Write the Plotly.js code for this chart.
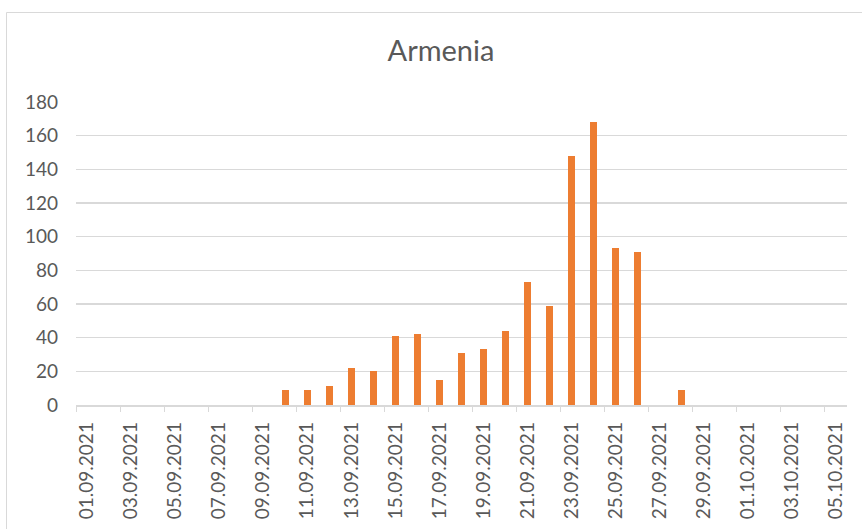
<!DOCTYPE html>
<html>
<head>
<meta charset="utf-8">
<script src="https://cdn.plot.ly/plotly-3.0.1.min.js"></script>
<style>
  html, body { margin: 0; padding: 0; background: #fff; }
  #chart { width: 862px; height: 529px; }
</style>
</head>
<body>
<div id="chart"></div>
<script>
// Daily values
const dates = [
  '2021-09-10', '2021-09-11', '2021-09-12', '2021-09-13', '2021-09-14',
  '2021-09-15', '2021-09-16', '2021-09-17', '2021-09-18', '2021-09-19',
  '2021-09-20', '2021-09-21', '2021-09-22', '2021-09-23', '2021-09-24',
  '2021-09-25', '2021-09-26', '2021-09-27', '2021-09-28'
];
const values = [
  9, 9, 11, 22, 20,
  41, 42, 15, 31, 33,
  44, 73, 59, 148, 168,
  93, 91, 0, 9
];
const title = 'Armenia';
const xStart = '2021-09-01';
const xEnd = '2021-10-06';
const yTicks = [0, 20, 40, 60, 80, 100, 120, 140, 160, 180];

const DAY = 86400000;
const font = 'Lato, "Open Sans", sans-serif';
const textColor = '#595959';
const gridColor = '#D9D9D9';

const trace = {
  type: 'bar',
  x: dates,
  y: values,
  xperiod: DAY,
  xperiodalignment: 'middle',
  width: 0.3 * DAY,
  marker: { color: '#ED7D31', line: { width: 0 } },
  hoverinfo: 'x+y'
};

const L = 76, R = 15, T = 102, B = 124;
const W = 862, H = 529;
const pw = W - L - R, ph = H - T - B;
const px = v => (v - L) / pw;
const py = v => (H - B - v) / ph;

const layout = {
  width: W,
  height: H,
  margin: { l: L, r: R, t: T, b: B, pad: 0 },
  paper_bgcolor: '#ffffff',
  plot_bgcolor: '#ffffff',
  showlegend: false,
  bargap: 0,
  font: { family: font, color: textColor, size: 19 },
  title: {
    text: title,
    font: { family: font, color: textColor, size: 29 },
    x: 441 / W,
    xanchor: 'center',
    xref: 'container',
    y: 1 - 51 / H,
    yanchor: 'middle',
    yref: 'container'
  },
  xaxis: {
    type: 'date',
    range: [xStart, xEnd],
    tick0: xStart,
    dtick: 2 * DAY,
    tickformat: '%d.%m.%Y',
    tickangle: -90,
    ticks: 'outside',
    ticklen: 5,
    tickwidth: 1,
    tickcolor: gridColor,
    ticklabelshift: 11,
    ticklabelstandoff: 3,
    showgrid: false,
    showline: true,
    linecolor: gridColor,
    linewidth: 1.5,
    zeroline: false,
    tickfont: { family: font, color: textColor, size: 19 },
    fixedrange: true
  },
  yaxis: {
    range: [0, 180],
    tickvals: yTicks,
    ticks: '',
    showline: false,
    showgrid: true,
    gridcolor: gridColor,
    gridwidth: 1.5,
    zeroline: false,
    ticklabelstandoff: 17,
    tickfont: { family: font, color: textColor, size: 19 },
    fixedrange: true
  },
  shapes: [{
    type: 'rect',
    xref: 'paper', yref: 'paper',
    x0: px(6.5), x1: px(880),
    y0: py(545), y1: py(12.5),
    line: { color: gridColor, width: 1 },
    fillcolor: 'rgba(0,0,0,0)',
    layer: 'below'
  }]
};

Plotly.newPlot('chart', [trace], layout, { displayModeBar: false, staticPlot: true });
</script>
</body>
</html>
